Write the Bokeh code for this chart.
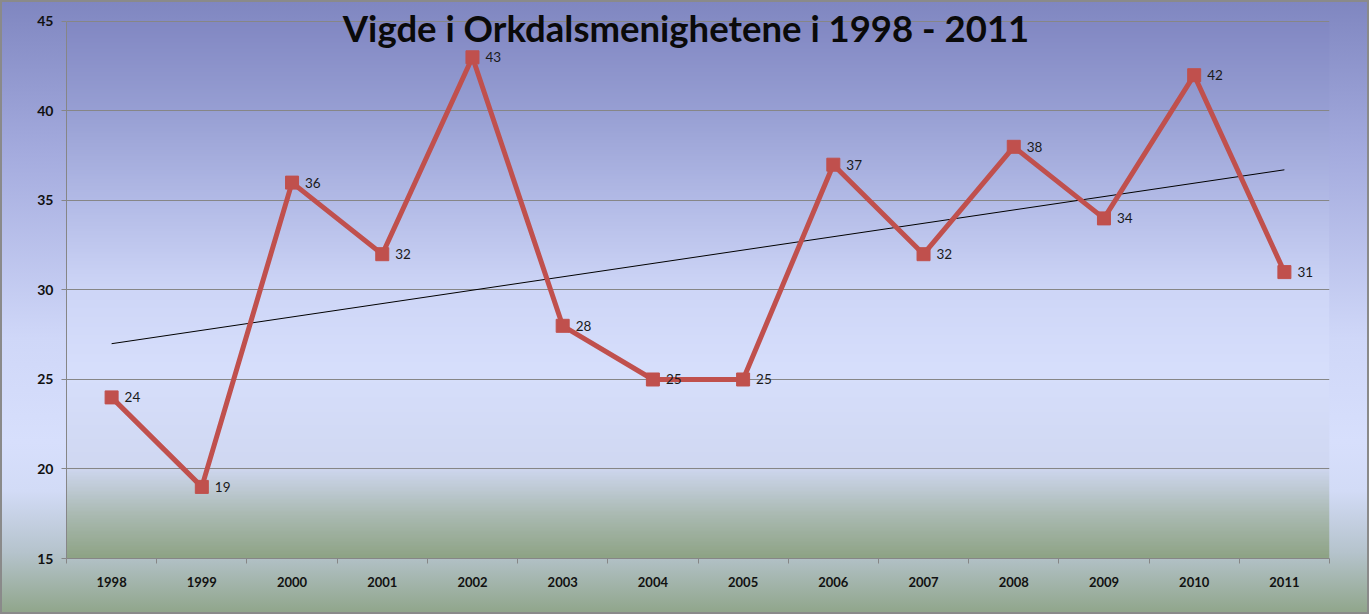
import numpy as np
from bokeh.plotting import figure
from bokeh.models import FixedTicker, Range1d, Label
from bokeh.core.properties import value
from bokeh.embed import file_html
from bokeh.resources import INLINE

years = ["1998", "1999", "2000", "2001", "2002", "2003", "2004",
         "2005", "2006", "2007", "2008", "2009", "2010", "2011"]
counts = [24, 19, 36, 32, 43, 28, 25, 25, 37, 32, 38, 34, 42, 31]
y_ticks = [15, 20, 25, 30, 35, 40, 45]
title_text = "Vigde i Orkdalsmenighetene i 1998 - 2011"

FONT = "Lato"
x = list(range(len(years)))
slope, intercept = np.polyfit(x, counts, 1)
trend_x = [x[0], x[-1]]
trend_y = [intercept + slope * x[0], intercept + slope * x[-1]]

p = figure(width=1369, height=614, output_backend="svg", toolbar_location=None,
           x_range=Range1d(-0.5, len(years) - 0.5), y_range=Range1d(15, 46.173),
           min_border_left=66, min_border_right=40, min_border_top=0,
           min_border_bottom=56)
p.background_fill_alpha = 0
p.border_fill_alpha = 0
p.outline_line_color = None
p.styles = {
    "background": "linear-gradient(to bottom, #7f86c0 0%, #a4abde 25%, #cfd7f8 55%, #d7dffc 72%, #d2dbf6 80%, #b5c3cc 90%, #8fa589 100%)",
    "box-shadow": "inset 0 0 0 2px #8a8a8a",
}

# plot-area gradient (bottom -> top)
stops = [(0.0, (142, 163, 133)), (0.08, (170, 186, 178)), (0.17, (208, 216, 242)),
         (0.35, (215, 223, 252)), (0.5, (206, 214, 247)), (0.67, (178, 186, 230)),
         (0.83, (152, 160, 212)), (1.0, (130, 136, 195))]
H = 400
fr = np.linspace(0, 1, H)
img = np.zeros((H, 2), dtype=np.uint32)
view = img.view(dtype=np.uint8).reshape((H, 2, 4))
for c in range(3):
    ch = np.interp(fr, [s[0] for s in stops], [s[1][c] for s in stops])
    view[:, :, c] = ch.astype(np.uint8)[:, None]
view[:, :, 3] = 255
p.image_rgba(image=[img], x=-0.5, y=15, dw=len(years), dh=30, level="image")

p.xgrid.visible = False
p.ygrid.grid_line_color = "#868686"
p.ygrid.grid_line_width = 1

p.yaxis.ticker = FixedTicker(ticks=y_ticks)
p.yaxis.bounds = (15, 45)
p.yaxis.axis_line_color = "#868686"
p.yaxis.major_tick_line_color = "#868686"
p.yaxis.major_tick_out = 5
p.yaxis.major_tick_in = 0
p.yaxis.minor_tick_out = 0
p.yaxis.major_label_text_font = FONT
p.yaxis.major_label_text_font_style = "bold"
p.yaxis.major_label_text_font_size = "14px"
p.yaxis.major_label_text_color = "#111111"
p.yaxis.major_label_standoff = 8

p.xaxis.ticker = FixedTicker(ticks=x, minor_ticks=[i - 0.5 for i in range(len(years) + 1)])
p.xaxis.major_label_overrides = {i: y for i, y in enumerate(years)}
p.xaxis.axis_line_color = "#868686"
p.xaxis.major_tick_out = 0
p.xaxis.major_tick_in = 0
p.xaxis.minor_tick_out = 5
p.xaxis.minor_tick_in = 0
p.xaxis.minor_tick_line_color = "#868686"
p.xaxis.major_label_text_font = FONT
p.xaxis.major_label_text_font_style = "bold"
p.xaxis.major_label_text_font_size = "13px"
p.xaxis.major_label_text_color = "#111111"
p.xaxis.major_label_standoff = 13

p.line(trend_x, trend_y, color="black", line_width=1)
p.line(x, counts, color="#c0504d", line_width=5)
p.scatter(x, counts, marker="square", size=13, color="#c0504d")
p.text(x, counts, text=[str(c) for c in counts], x_offset=13, text_align="left",
       text_baseline="middle", text_font=value(FONT), text_font_size="13.5px",
       text_color="#1a1a1a")

p.add_layout(Label(x=(len(years) - 1) / 2, y=44.66, x_offset=-12, text=title_text,
                   text_align="center", text_baseline="middle", text_font=FONT,
                   text_font_size="36.5px", text_font_style="bold", text_color="#0a0a0a"))

open("out.html", "w").write(file_html(p, INLINE))
